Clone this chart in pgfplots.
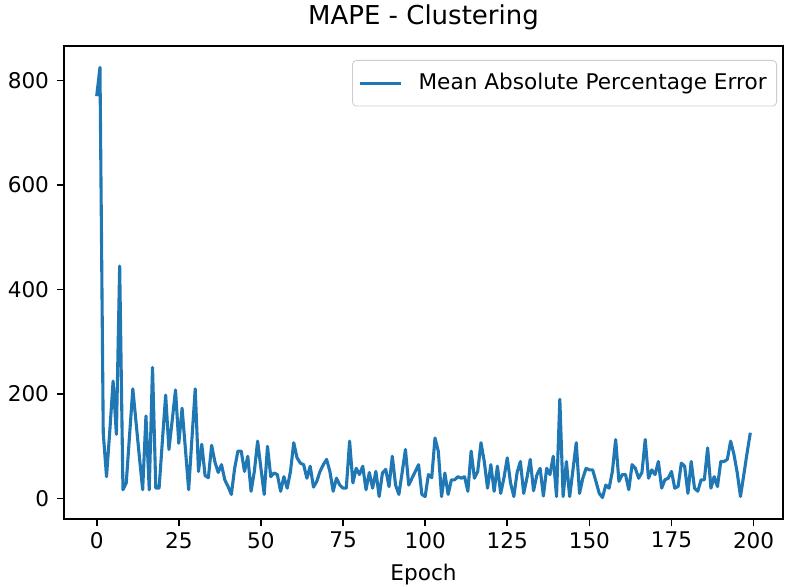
\documentclass[border=0pt]{standalone}
\usepackage{pgfplots}
\pgfplotsset{compat=1.18}
\usepackage{fontspec}
\setmainfont{DejaVu Sans}
\definecolor{mplblue}{HTML}{1F77B4}
\pgfplotstableread{
x y
0 770
1 825
2 125
3 42
4 130
5 225
6 123
7 445
8 17
9 30
10 120
11 210
12 145
13 80
14 17
15 158
16 17
17 251
18 20
19 20
20 110
21 198
22 94
23 150
24 208
25 106
26 173
27 96
28 17
29 115
30 210
31 52
32 104
33 44
34 40
35 102
36 70
37 50
38 65
39 36
40 23
41 8
42 58
43 91
44 91
45 52
46 81
47 14
48 52
49 110
50 58
51 8
52 100
53 42
54 49
55 46
56 14
57 42
58 20
59 52
60 107
61 78
62 68
63 65
64 39
65 62
66 22
67 33
68 52
69 65
70 75
71 52
72 14
73 39
74 26
75 20
76 20
77 110
78 30
79 58
80 46
81 62
82 17
83 50
84 20
85 52
86 4
87 49
88 56
89 23
90 81
91 26
92 8
93 50
94 94
95 26
96 39
97 52
98 65
99 8
100 4
101 46
102 40
103 116
104 91
105 4
106 49
107 8
108 36
109 36
110 42
111 39
112 42
113 14
114 91
115 39
116 52
117 107
118 71
119 20
120 65
121 14
122 62
123 10
124 40
125 78
126 30
127 4
128 50
129 71
130 10
131 40
132 75
133 15
134 45
135 58
136 5
137 58
138 46
139 81
140 4
141 190
142 4
143 71
144 4
145 55
146 107
147 10
148 39
149 58
150 55
151 55
152 33
153 10
154 2
155 26
156 20
157 52
158 113
159 33
160 46
161 46
162 17
163 65
164 58
165 39
166 50
167 113
168 39
169 55
170 46
171 71
172 20
173 36
174 39
175 52
176 20
177 23
178 68
179 62
180 10
181 71
182 20
183 14
184 36
185 36
186 97
187 20
188 42
189 23
190 71
191 71
192 75
193 110
194 85
195 50
196 4
197 45
198 87
199 126
}\mapedata
\begin{document}
\fontsize{10.8}{13}\selectfont
\begin{tikzpicture}
\begin{axis}[
  scale only axis, width=359.5pt, height=236.5pt,
  xmin=-9.95, xmax=208.95, ymin=-39, ymax=866,
  xtick={0,25,...,200}, ytick={0,200,...,800},
  tick align=outside, tick pos=left,
  major tick length=3.7pt,
  every tick/.style={black, line width=0.84pt},
  axis line style={line width=0.84pt},
  /pgf/number format/assume math mode=true,
  ticklabel style={font=\fontsize{10.8}{13}\selectfont},
  xticklabel style={yshift=1pt},
  title={MAPE - Clustering},
  title style={at={(axis description cs:0.5,1)}, anchor=base, yshift=4.5pt, font=\fontsize{13}{15.6}\selectfont},
  xlabel={Epoch},
  xlabel style={at={(axis description cs:0.5,0)}, anchor=base, yshift=-30.75pt, font=\fontsize{10.8}{13}\selectfont},
  legend style={at={(1,1)}, anchor=north east, xshift=-3pt, yshift=-7pt,
    draw=black!20, rounded corners=2pt, font=\fontsize{10.8}{13}\selectfont,
    inner xsep=3pt, inner ysep=4.5pt},
  legend cell align=left,
  legend image code/.code={\draw[#1] (0pt,0pt) -- (20.5pt,0pt); \path (26.5pt,0pt);},
]
\addplot[mplblue, line width=1.55pt, line join=round] table[x=x,y=y] {\mapedata};
\legend{Mean Absolute Percentage Error}
\end{axis}
\pgfresetboundingbox
\path ([xshift=-32pt,yshift=-34pt]current axis.south west) rectangle ([xshift=1pt,yshift=23pt]current axis.north east);
\end{tikzpicture}
\end{document}
